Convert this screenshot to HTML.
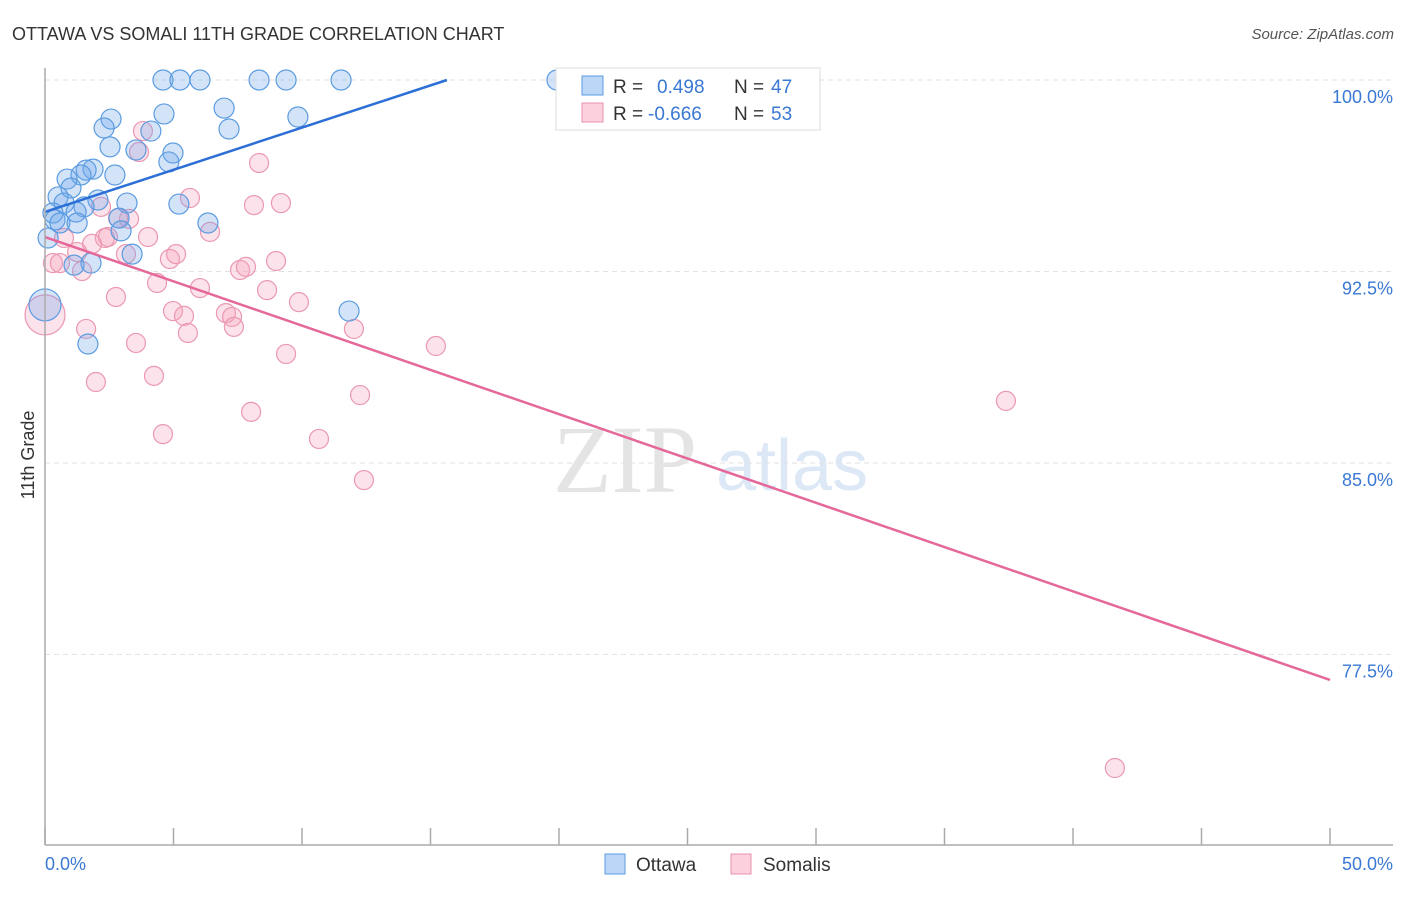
<!DOCTYPE html>
<html><head><meta charset="utf-8"><style>
body{margin:0;background:#fff;font-family:"Liberation Sans",sans-serif;}
</style></head><body>
<svg id="chart" width="1406" height="892" xmlns="http://www.w3.org/2000/svg" font-family="Liberation Sans, sans-serif">
<text x="12" y="40" font-size="18" fill="#333">OTTAWA VS SOMALI 11TH GRADE CORRELATION CHART</text>
<text x="1394" y="39" font-size="15" fill="#555" text-anchor="end" font-style="italic">Source: ZipAtlas.com</text>
<text x="553" y="492" font-size="96" fill="#e4e4e4" font-family="Liberation Serif, serif">ZIP</text>
<text x="716" y="490" font-size="72" fill="#dce8f6">atlas</text>
<text transform="translate(34,455) rotate(-90)" font-size="18" fill="#333" text-anchor="middle">11th Grade</text>
<g id="grid"></g><g id="marks"></g><g id="trend"></g>
<line x1="45" y1="68" x2="45" y2="845" stroke="#aaa" stroke-width="1.5"/>
<line x1="45" y1="845" x2="1393" y2="845" stroke="#aaa" stroke-width="1.5"/>
<text x="45" y="870" font-size="18" fill="#3a78d4">0.0%</text>
<text x="1393" y="870" font-size="18" fill="#3a78d4" text-anchor="end">50.0%</text>
<g>
<rect x="556" y="68" width="264" height="62" fill="#fff" stroke="#ddd"/>
<rect x="582" y="76" width="21" height="19" fill="#bcd6f7" stroke="#5b9be0"/>
<rect x="582" y="103" width="21" height="19" fill="#fcd0dc" stroke="#e890aa"/>
<text x="613" y="93" font-size="19" fill="#333">R =</text><text x="657" y="93" font-size="19" fill="#3a78d4">0.498</text>
<text x="734" y="93" font-size="19" fill="#333">N =</text><text x="771" y="93" font-size="19" fill="#3a78d4">47</text>
<text x="613" y="120" font-size="19" fill="#333">R =</text><text x="648" y="120" font-size="19" fill="#3a78d4">-0.666</text>
<text x="734" y="120" font-size="19" fill="#333">N =</text><text x="771" y="120" font-size="19" fill="#3a78d4">53</text>
</g>
<g>
<rect x="605" y="854" width="20" height="20" fill="#bcd6f7" stroke="#5b9be0"/>
<text x="636" y="871" font-size="19" fill="#333">Ottawa</text>
<rect x="731" y="854" width="20" height="20" fill="#fcd0dc" stroke="#e890aa"/>
<text x="763" y="871" font-size="19" fill="#333">Somalis</text>
</g>
</svg>
<script>
const yTicks=[100,92.5,85,77.5];
const yTickLabels=["100.0%","92.5%","85.0%","77.5%"];
const xTicks=[0,5,10,15,20,25,30,35,40,45,50];
const ottawaX=[4.59,5.25,6.03,8.33,9.38,11.52,19.92,2.57,4.63,6.97,9.84,2.30,4.12,7.16,2.53,3.54,4.98,4.82,2.72,1.87,1.60,1.40,0.86,1.01,0.51,0.74,2.06,3.19,5.21,1.52,1.21,0.31,0.39,0.58,1.25,2.88,2.96,6.34,0.12,1.13,1.79,3.39,0,11.83,1.67];
const ottawaY=[100,100,100,100,100,100,100,98.47,98.67,98.90,98.55,98.12,98.00,98.08,97.38,97.26,97.14,96.79,96.28,96.51,96.47,96.28,96.12,95.77,95.42,95.18,95.30,95.18,95.14,95.03,94.83,94.79,94.52,94.40,94.40,94.59,94.09,94.40,93.81,92.75,92.83,93.18,91.19,90.95,89.66];
const ottawaR=[10,10,10,10,10,10,10,10,10,10,10,10,10,10,10,10,10,10,10,10,10,10,10,10,10,10,10,10,10,10,10,10,10,10,10,10,10,10,10,10,10,10,16,10,10];
const somaliX=[3.81,3.66,8.33,5.64,2.18,8.13,9.18,3.27,2.84,0.74,2.45,4.01,6.42,1.83,2.33,1.25,3.15,4.86,5.10,0.31,0.58,1.44,7.59,7.82,8.99,4.36,6.03,8.64,2.76,9.88,1.60,4.98,5.41,5.56,7.04,7.28,7.35,12.02,3.54,9.38,15.21,1.98,4.24,8.02,12.26,37.39,4.59,10.66,12.41,41.63,0];
const somaliY=[98.00,97.18,96.75,95.38,95.03,95.10,95.18,94.56,94.59,93.81,93.85,93.85,94.05,93.58,93.81,93.26,93.18,92.99,93.18,92.83,92.83,92.52,92.56,92.68,92.91,92.05,91.85,91.77,91.50,91.30,90.25,90.95,90.76,90.09,90.87,90.72,90.33,90.25,89.70,89.27,89.58,88.17,88.41,87.00,87.66,87.43,86.13,85.94,84.33,73.05,90.80];
const ottawaTrend=[[0,94.83],[15.64,100]];
const somaliTrend=[[0,93.85],[50,76.5]];
const X0=45,X1=1330,Y0=80,YS=25.53;
const sx=v=>X0+(X1-X0)*v/50;
const sy=v=>Y0+(100-v)*YS;
const NS="http://www.w3.org/2000/svg";
function mk(tag,attrs,parent){const e=document.createElementNS(NS,tag);for(const k in attrs)e.setAttribute(k,attrs[k]);parent.appendChild(e);return e;}
const grid=document.getElementById('grid'),marks=document.getElementById('marks'),trend=document.getElementById('trend');
yTicks.forEach((t,i)=>{
 const l=mk('line',{x1:45,x2:1393,y1:sy(t),y2:sy(t),stroke:'#e2e2e2','stroke-dasharray':'5,4'},grid);
 
 
 const tx=mk('text',{x:1393,y:sy(t)+23,'font-size':18,fill:'#3a78d4','text-anchor':'end'},grid);
 tx.textContent=yTickLabels[i];
 
 
});
xTicks.forEach(t=>{
 const l=mk('line',{x1:sx(t),x2:sx(t),y1:828,y2:845,stroke:'#aaa','stroke-width':1.5},grid);
 
 
});
somaliX.forEach((v,i)=>{
 const c=mk('circle',{cx:sx(v),cy:sy(somaliY[i]),r:i==somaliX.length-1?20:9.5,fill:'rgba(245,160,185,0.3)',stroke:'#eb98b2','stroke-width':1.2},marks);
 
 
});
ottawaX.forEach((v,i)=>{
 const c=mk('circle',{cx:sx(v),cy:sy(ottawaY[i]),r:ottawaR[i],fill:'rgba(110,165,235,0.3)',stroke:'#5b9be0','stroke-width':1.2},marks);
 
 
});
const tb=mk('line',{x1:sx(ottawaTrend[0][0]),y1:sy(ottawaTrend[0][1]),x2:sx(ottawaTrend[1][0]),y2:sy(ottawaTrend[1][1]),stroke:'#2c6fd6','stroke-width':2.5},trend);


const tp=mk('line',{x1:sx(somaliTrend[0][0]),y1:sy(somaliTrend[0][1]),x2:sx(somaliTrend[1][0]),y2:sy(somaliTrend[1][1]),stroke:'#e5689a','stroke-width':2.5},trend);


</script>
</body></html>
